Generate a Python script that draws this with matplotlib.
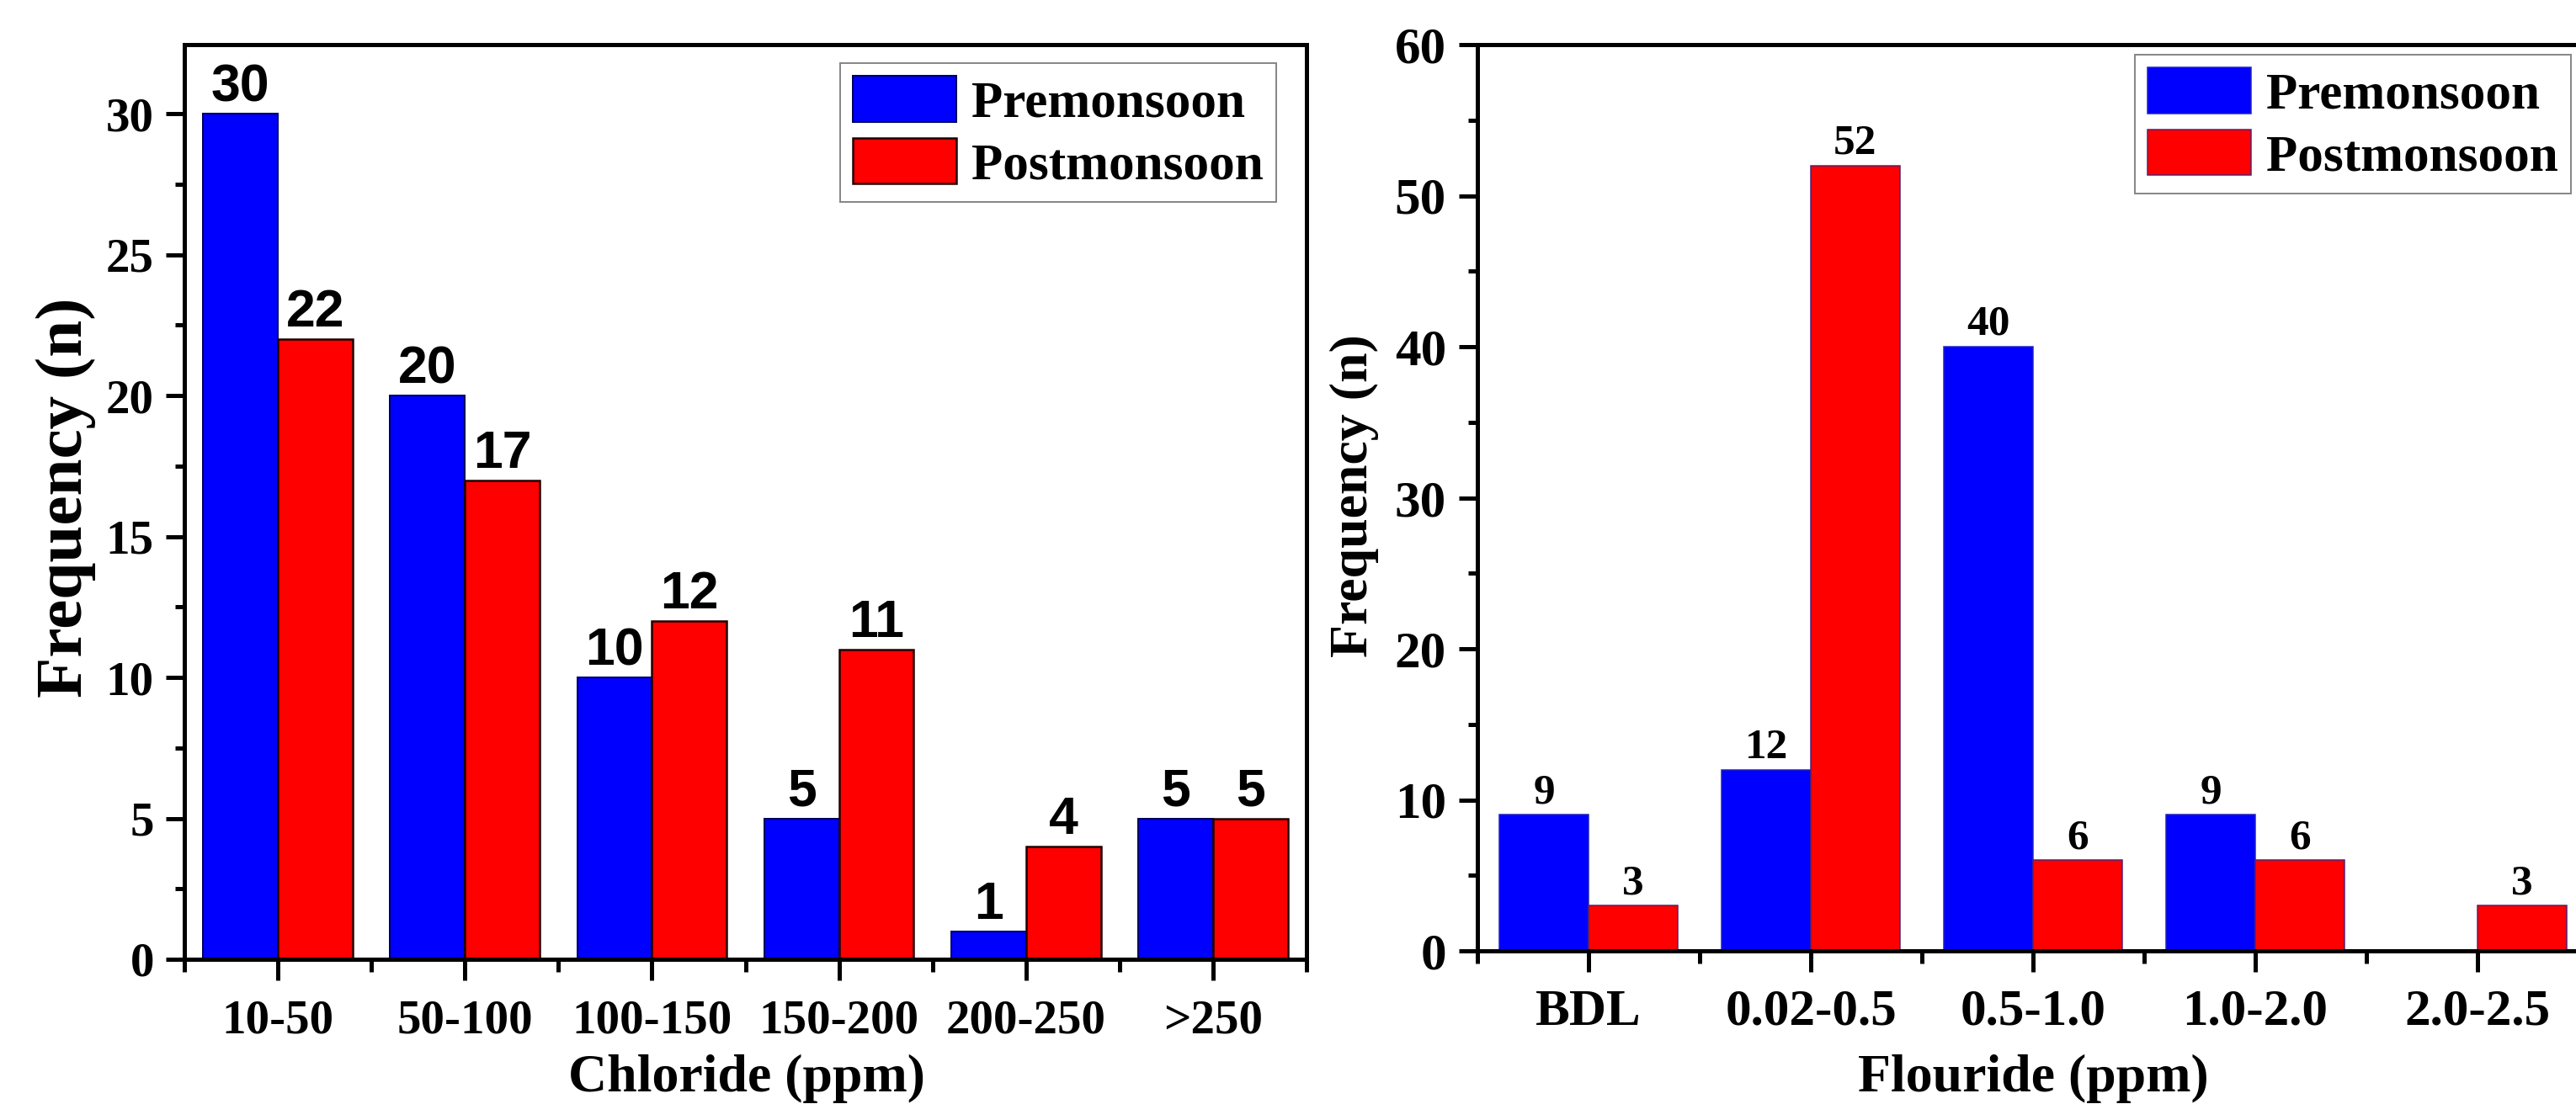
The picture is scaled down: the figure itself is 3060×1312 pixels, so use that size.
import numpy as np
import matplotlib.pyplot as plt
from matplotlib.ticker import MultipleLocator, FixedLocator

# data
chloride_bins = ["10-50", "50-100", "100-150", "150-200", "200-250", ">250"]
chloride_pre = [30, 20, 10, 5, 1, 5]
chloride_post = [22, 17, 12, 11, 4, 5]

fluoride_bins = ["BDL", "0.02-0.5", "0.5-1.0", "1.0-2.0", "2.0-2.5"]
fluoride_pre = [9, 12, 40, 9, 0]
fluoride_post = [3, 52, 6, 6, 3]

seasons = ["Premonsoon", "Postmonsoon"]

W, H, DPI = 3060, 1312, 100


def pt(p):
    # pixels -> points
    return p * 72.0 / DPI


plt.rcParams['font.family'] = 'Liberation Serif'
plt.rcParams['font.weight'] = 'bold'

fig = plt.figure(figsize=(W / DPI, H / DPI), dpi=DPI)
fig.patch.set_facecolor('white')


def make_axes(left, top, right, bottom):
    return fig.add_axes([left / W, 1 - bottom / H, (right - left) / W, (bottom - top) / H])


def style(ax, ymax, ymajor, yminor, ticksize_y, ticksize_x, ypad, xpad):
    for s in ax.spines.values():
        s.set_linewidth(pt(5))
    ax.set_ylim(0, ymax)
    ax.yaxis.set_major_locator(MultipleLocator(ymajor))
    ax.yaxis.set_minor_locator(MultipleLocator(yminor))
    ax.tick_params(axis='y', which='major', direction='out', length=pt(22), width=pt(5),
                   labelsize=ticksize_y, pad=pt(ypad))
    ax.tick_params(axis='y', which='minor', direction='out', length=pt(11), width=pt(5))
    ax.tick_params(axis='x', which='major', direction='out', length=pt(25), width=pt(5),
                   labelsize=ticksize_x, pad=pt(xpad))
    ax.tick_params(axis='x', which='minor', direction='out', length=pt(15), width=pt(5))
    ax.tick_params(top=False, right=False)


# ---- left: chloride ----
ax1 = make_axes(219, 53, 1552, 1140)
x = np.arange(len(chloride_bins))
b1 = ax1.bar(x - 0.2, chloride_pre, 0.4, color='#0000FF', edgecolor='#000060', linewidth=pt(2),
             label=seasons[0])
b2 = ax1.bar(x + 0.2, chloride_post, 0.4, color='#FF0000', edgecolor='#200000', linewidth=pt(2.5),
             label=seasons[1])
ax1.set_xlim(-0.5, len(chloride_bins) - 0.5)
ax1.set_xticks(x)
ax1.set_xticklabels(chloride_bins)
ax1.xaxis.set_minor_locator(FixedLocator(np.arange(-0.5, len(chloride_bins), 1.0)))
style(ax1, 32.45, 5, 2.5, 41, 41, 14, 22)
for bars, vals in ((b1, chloride_pre), (b2, chloride_post)):
    for r, v in zip(bars, vals):
        if v > 0:
            ax1.annotate(str(v), (r.get_x() + r.get_width() / 2, v), xytext=(0, pt(15)),
                         textcoords='offset points', ha='center', va='baseline',
                         fontsize=45, family='Liberation Sans', fontweight='bold')
ax1.legend(loc='upper left', bbox_to_anchor=(998 / W, 1 - 75 / H), bbox_transform=fig.transFigure,
           borderaxespad=0, fontsize=44, fancybox=False, edgecolor='#888888', framealpha=1,
           handlelength=2.0, handleheight=1.0, handletextpad=0.3, labelspacing=0.2,
           borderpad=0.25).get_frame().set_linewidth(pt(2))

fig.text(97 / W, 1 - 591 / H, "Frequency (n)", rotation=90, rotation_mode='anchor',
         ha='center', va='baseline', fontsize=57)
fig.text(887 / W, 1 - 1297 / H, "Chloride (ppm)", ha='center', va='baseline', fontsize=46)

# ---- right: fluoride ----
ax2 = make_axes(1755, 53, 3075, 1130)
x2 = np.arange(len(fluoride_bins))
c1 = ax2.bar(x2 - 0.2, fluoride_pre, 0.4, color='#0000FF', edgecolor='#2020C0', linewidth=pt(1.5),
             label=seasons[0])
c2 = ax2.bar(x2 + 0.2, fluoride_post, 0.4, color='#FF0000', edgecolor='#502070', linewidth=pt(1.5),
             label=seasons[1])
ax2.set_xlim(-0.5, len(fluoride_bins) - 0.5)
ax2.set_xticks(x2)
ax2.set_xticklabels(fluoride_bins)
ax2.xaxis.set_minor_locator(FixedLocator(np.arange(-0.5, len(fluoride_bins), 1.0)))
style(ax2, 60, 10, 5, 44, 44, 15, 20)
for bars, vals in ((c1, fluoride_pre), (c2, fluoride_post)):
    for r, v in zip(bars, vals):
        if v > 0:
            ax2.annotate(str(v), (r.get_x() + r.get_width() / 2, v), xytext=(0, pt(14)),
                         textcoords='offset points', ha='center', va='baseline', fontsize=37)
ax2.legend(loc='upper left', bbox_to_anchor=(2536 / W, 1 - 65 / H), bbox_transform=fig.transFigure,
           borderaxespad=0, fontsize=44, fancybox=False, edgecolor='#888888', framealpha=1,
           handlelength=2.0, handleheight=1.0, handletextpad=0.3, labelspacing=0.2,
           borderpad=0.25).get_frame().set_linewidth(pt(2))

fig.text(1624 / W, 1 - 589 / H, "Frequency (n)", rotation=90, rotation_mode='anchor',
         ha='center', va='baseline', fontsize=46)
fig.text(2415 / W, 1 - 1297 / H, "Flouride (ppm)", ha='center', va='baseline', fontsize=46)

fig.savefig("out.png", dpi=DPI)
